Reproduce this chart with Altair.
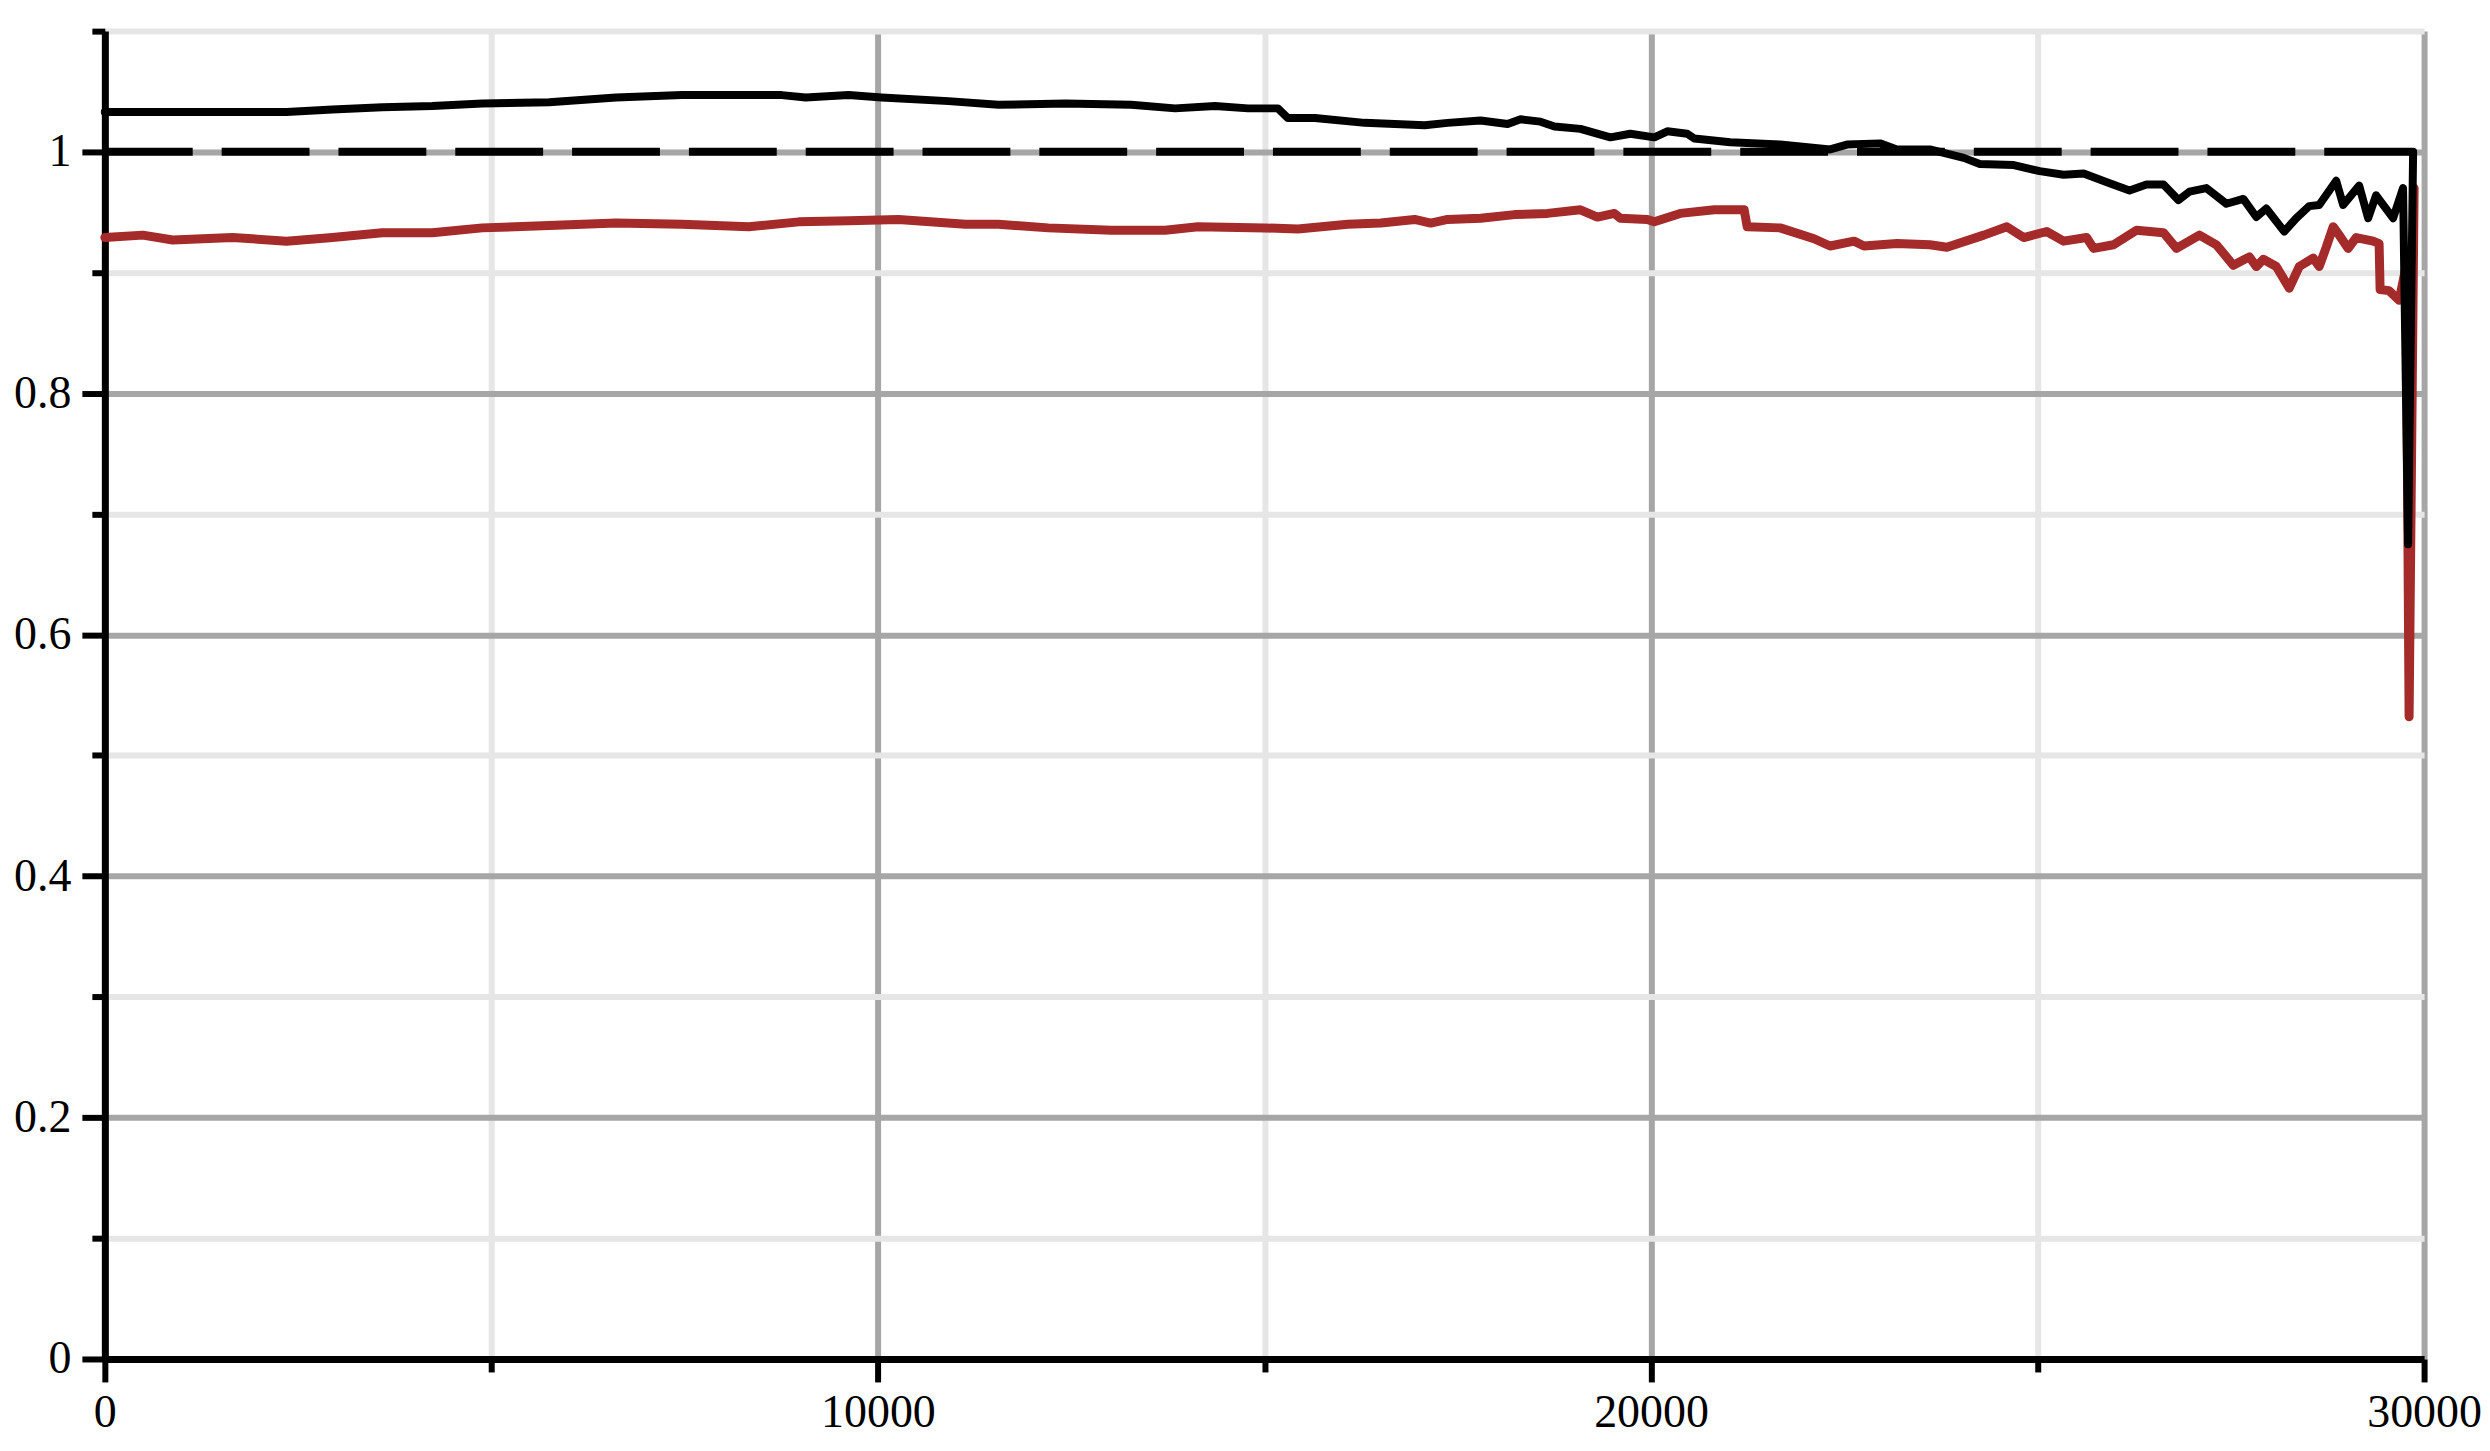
import altair as alt
import pandas as pd

# black curve
black_x = [0, 801, 1576, 2350, 2944, 3590, 4236, 4881, 5747, 6612, 7464, 8110, 8756, 9066, 9621, 10047, 10912, 11558,
           12423, 13276, 13844, 14360, 14787, 15174, 15303, 15652, 16297, 17072, 17369,
           17796, 18145, 18312, 18570, 18751, 19087, 19474, 19733, 20043, 20211, 20469, 20560, 21025, 21670, 22316, 22535, 22962, 23181,
           23607, 24046, 24253, 24692, 25028, 25337, 25596, 25932, 26190, 26409, 26629, 26823, 26965, 27184, 27443, 27662, 27830, 27959, 28191, 28346, 28514,
           28643, 28863, 28953, 29160, 29276, 29379, 29599, 29728, 29793, 29858]
black_y = [1.033, 1.033, 1.033, 1.033, 1.035, 1.037, 1.038, 1.040, 1.041, 1.045, 1.047, 1.047, 1.047, 1.045, 1.047, 1.045, 1.042, 1.039,
           1.040, 1.039, 1.036, 1.038, 1.036, 1.036, 1.028, 1.028, 1.024, 1.022, 1.024,
           1.026, 1.023, 1.027, 1.025, 1.021, 1.019, 1.012, 1.015, 1.012, 1.017, 1.015, 1.011, 1.008, 1.006, 1.002, 1.006, 1.007, 1.002,
           1.002, 0.995, 0.990, 0.989, 0.984, 0.981, 0.982, 0.974, 0.968, 0.973, 0.973, 0.960, 0.967, 0.970, 0.957, 0.961, 0.946, 0.953, 0.934, 0.945, 0.955,
           0.956, 0.976, 0.956, 0.972, 0.945, 0.964, 0.945, 0.970, 0.675, 1.0]

# red curve
red_x = [0, 491, 878, 1653, 2350, 2944, 3590, 4236, 4881, 5747, 6612, 7464, 8330, 8975, 9621, 10267, 11132, 11558,
         12204, 13017, 13715, 14141, 15006, 15432, 16078, 16504, 16943, 17150, 17369,
         17796, 18235, 18661, 19087, 19307, 19526, 19604, 19952, 20043, 20378, 20818, 21205, 21244, 21670, 22109, 22316, 22626, 22755, 23181,
         23607, 23827, 24305, 24602, 24821, 25118, 25337, 25634, 25725, 25983, 26280, 26629, 26797, 27094, 27314, 27533, 27740, 27830, 27920, 28088, 28256, 28385, 28566,
         28643, 28734, 28824, 28902, 29018, 29121, 29341, 29418, 29431, 29547, 29677, 29767, 29806, 29871]
red_y = [0.929, 0.931, 0.927, 0.929, 0.926, 0.929, 0.933, 0.933, 0.937, 0.939, 0.941, 0.940, 0.938, 0.942, 0.943, 0.944, 0.940, 0.940,
         0.937, 0.935, 0.935, 0.938, 0.937, 0.936, 0.940, 0.941, 0.944, 0.941, 0.944,
         0.945, 0.948, 0.949, 0.952, 0.946, 0.949, 0.945, 0.944, 0.942, 0.949, 0.952, 0.952, 0.938, 0.937, 0.928, 0.922, 0.926, 0.922, 0.924,
         0.923, 0.921, 0.931, 0.938, 0.929, 0.934, 0.926, 0.929, 0.920, 0.923, 0.935, 0.933, 0.920, 0.931, 0.923, 0.906, 0.913, 0.905, 0.911, 0.905, 0.887, 0.905, 0.912,
         0.905, 0.921, 0.938, 0.931, 0.920, 0.929, 0.926, 0.924, 0.886, 0.885, 0.877, 0.905, 0.532, 0.970]

# dashed reference line
ref_x = [0]
ref_x2 = [30000]
ref_y = [1.0]

# axis ticks
x_ticks = [0, 5000, 10000, 15000, 20000, 25000, 30000]
y_ticks = [0, 0.1, 0.2, 0.3, 0.4, 0.5, 0.6, 0.7, 0.8, 0.9, 1.0, 1.1]

black_df = pd.DataFrame({"x": black_x, "y": black_y})
red_df = pd.DataFrame({"x": red_x, "y": red_y})
ref_df = pd.DataFrame({"x": ref_x, "x2": ref_x2, "y": ref_y})

DARK = "#a6a6a6"
LIGHT = "#e6e6e6"
FONT = "Liberation Serif"

x_major = "datum.value % 10000 == 0"
y_major = "round(datum.value * 10) % 2 == 0"

x_axis = alt.Axis(
    values=x_ticks,
    labelExpr=f"{x_major} ? format(datum.value, 'd') : ''",
    grid=True,
    gridColor={"condition": {"test": x_major, "value": DARK}, "value": LIGHT},
    gridWidth=6,
    tickSize={"condition": {"test": x_major, "value": 23}, "value": 13},
    tickColor="black",
    tickWidth=6,
    domainColor="black",
    domainWidth=7,
    labelFont=FONT,
    labelFontSize=46,
    labelColor="black",
    labelPadding=9,
    labelFlush=False,
    labelOverlap=False,
    title=None,
)
y_axis = alt.Axis(
    values=y_ticks,
    labelExpr=f"{y_major} ? format(datum.value, '~g') : ''",
    grid=True,
    gridColor={"condition": {"test": y_major, "value": DARK}, "value": LIGHT},
    gridWidth=6,
    tickSize={"condition": {"test": y_major, "value": 23}, "value": 13},
    tickColor="black",
    tickWidth=6,
    domainColor="black",
    domainWidth=7,
    labelFont=FONT,
    labelFontSize=46,
    labelColor="black",
    labelPadding=11,
    labelFlush=False,
    labelOverlap=False,
    title=None,
)

x_enc = alt.X("x:Q", scale=alt.Scale(domain=[0, 30000], nice=False, zero=False), axis=x_axis)
y_enc = alt.Y("y:Q", scale=alt.Scale(domain=[0, 1.1], nice=False, zero=False), axis=y_axis)

red = alt.Chart(red_df).mark_line(color="#a52a2a", strokeWidth=9, strokeJoin="round", strokeCap="round").encode(
    x=x_enc, y=y_enc, order="x:Q")
black = alt.Chart(black_df).mark_line(color="black", strokeWidth=8, strokeJoin="round", strokeCap="round").encode(
    x=x_enc, y=y_enc, order="x:Q")
ref = alt.Chart(ref_df).mark_rule(color="black", strokeWidth=8, strokeDash=[88, 29]).encode(
    x=x_enc, x2="x2:Q", y=y_enc)

chart = alt.layer(red, black, ref).properties(
    width=2323, height=1330,
    autosize=alt.AutoSizeParams(type="none"),
    padding={"left": 97, "top": 22, "right": 58, "bottom": 80},
).configure_view(stroke=None)

chart.save("out.html", embed_options={"renderer": "svg", "actions": False})
